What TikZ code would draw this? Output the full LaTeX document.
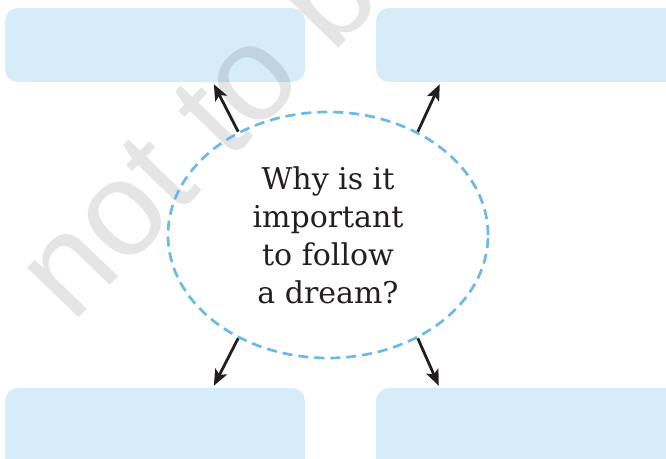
\documentclass[tikz,border=0pt]{standalone}
\usepackage{fontspec}
\setmainfont{DejaVu Serif}
\newfontfamily\wmfont{Liberation Sans}
\usetikzlibrary{shapes.geometric,arrows.meta}
\definecolor{boxblue}{HTML}{D6ECF9}
\definecolor{dashblue}{HTML}{6CB8E6}
\definecolor{inkgray}{HTML}{231F20}
\tikzset{
  answerbox/.style={rectangle, rounded corners=13pt, fill=boxblue, draw=none,
    minimum width=300pt, minimum height=74pt, inner sep=0pt},
  thought/.style={ellipse, draw=dashblue, line width=2.7pt,
    dash pattern=on 10pt off 6pt, minimum width=320pt, minimum height=246pt,
    inner sep=0pt, align=center, text=inkgray,
    font=\fontsize{30}{38}\selectfont},
  arr/.style={draw=inkgray, line width=2.8pt,
    -{Stealth[length=16pt,width=13pt,inset=3.5pt]}},
  watermark/.style={text=black, text opacity=0.1, anchor=base west,
    inner sep=0pt, font=\wmfont\fontsize{135}{135}\selectfont}
}
\begin{document}
\begin{tikzpicture}[x=1pt,y=-1pt]
\useasboundingbox (0,0) rectangle (666,458);
\clip (0,0) rectangle (666,458);
\node[answerbox] (tl) at (155,45) {};
\node[answerbox, minimum width=330pt] (tr) at (541,45) {};
\node[answerbox, minimum height=100pt] (bl) at (155,438) {};
\node[answerbox, minimum width=330pt, minimum height=100pt] (br) at (541,438) {};
\node[watermark, rotate=46] (wm) at (72,325) {not to be};
\node[thought] (q) at (328,235) {Why is it\\important\\to follow\\a dream?};
\draw[arr] (q.131) -- ([xshift=209pt,yshift=-2pt]tl.south west);
\draw[arr] (q.49) -- ([xshift=64pt,yshift=-2pt]tr.south west);
\draw[arr] (q.229) -- ([xshift=209pt,yshift=2pt]bl.north west);
\draw[arr] (q.311) -- ([xshift=63pt,yshift=2pt]br.north west);
\end{tikzpicture}
\end{document}
